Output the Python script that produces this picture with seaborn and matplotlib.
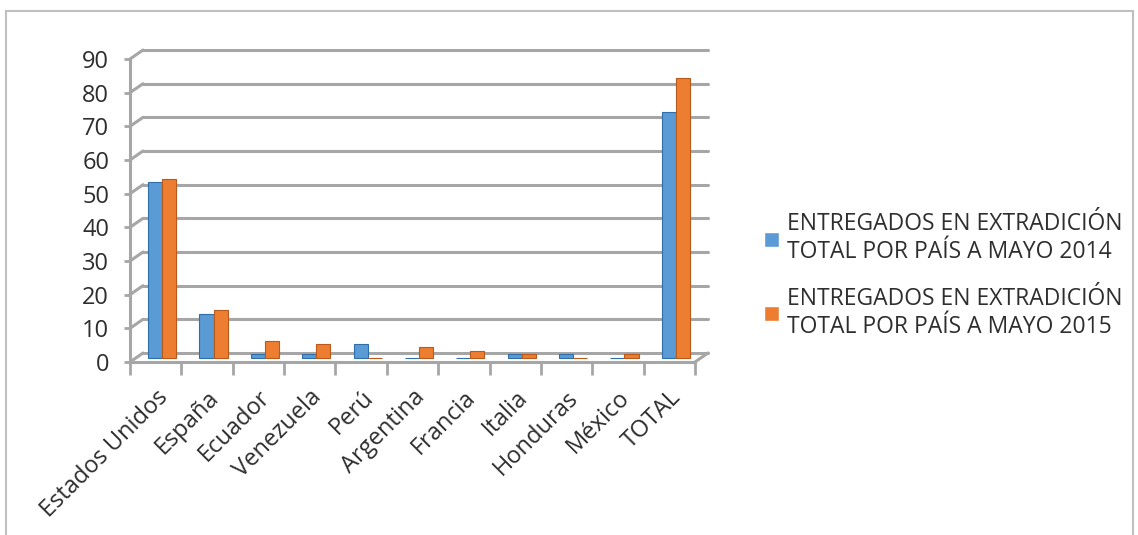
import pandas as pd
import matplotlib.pyplot as plt
import matplotlib.patches as mpatches
from matplotlib.transforms import ScaledTranslation
import seaborn as sns

# data
paises = ["Estados Unidos", "España", "Ecuador", "Venezuela", "Perú", "Argentina",
          "Francia", "Italia", "Honduras", "México", "TOTAL"]
mayo_2014 = [52, 13, 1, 1, 4, 0, 0, 1, 1, 0, 73]
mayo_2015 = [53, 14, 5, 4, 0, 3, 2, 1, 0, 1, 83]
serie_2014 = "ENTREGADOS EN EXTRADICIÓN\nTOTAL POR PAÍS A MAYO 2014"
serie_2015 = "ENTREGADOS EN EXTRADICIÓN\nTOTAL POR PAÍS A MAYO 2015"
y_ticks = [0, 10, 20, 30, 40, 50, 60, 70, 80, 90]

BLUE = "#5B9BD5"
ORANGE = "#ED7D31"
GRID = "#A6A6A6"
TEXT = "#2E2E2E"

df = pd.DataFrame({
    "pais": paises * 2,
    "valor": mayo_2014 + mayo_2015,
    "serie": [serie_2014] * len(paises) + [serie_2015] * len(paises),
})

sns.set_theme(style="white")
plt.rcParams["font.family"] = ["Open Sans", "DejaVu Sans"]

W, H = 1138, 535
fig = plt.figure(figsize=(W / 100, H / 100), dpi=100)
left, right, bottom_px, top_px = 130, 695, 362, 59
ax = fig.add_axes([left / W, 1 - bottom_px / H, (right - left) / W, (bottom_px - top_px) / H])

sns.barplot(data=df, x="pais", y="valor", hue="serie", palette=[BLUE, ORANGE],
            width=0.55, saturation=1, ax=ax, zorder=3)

# pseudo 3D depth (pixels)
dx_px, dy_px = 13, 9
# bars stand in the middle of the depth
mid = ScaledTranslation(dx_px / 200, dy_px / 200, fig.dpi_scale_trans)
for p, c in zip(ax.patches, [BLUE] * len(paises) + [ORANGE] * len(paises)):
    p.set_edgecolor("#2F6EA8" if c == BLUE else "#B85A1C")
    p.set_linewidth(0.8)
    p.set_transform(ax.transData + mid)

ax.set_xlim(-0.5, len(paises) - 0.5)
ax.set_ylim(0, 90)
ax.set_yticks(y_ticks)
ax.set_xlabel("")
ax.set_ylabel("")

# back wall: gridlines shifted up and right
x0, x1 = ax.get_xlim()
ddx = dx_px * (x1 - x0) / (right - left)
ddy = dy_px * 90 / (bottom_px - top_px)
for y in y_ticks:
    ax.plot([x0 + ddx, x1 + ddx], [y + ddy, y + ddy], color=GRID, lw=2.2, clip_on=False, zorder=1)
    ax.plot([x0, x0 + ddx], [y, y + ddy], color=GRID, lw=2.2, clip_on=False, zorder=1)
# floor front edge and right side
ax.plot([x0, x1], [0, 0], color=GRID, lw=2.2, clip_on=False, zorder=2)
ax.plot([x1, x1 + ddx], [0, ddy], color=GRID, lw=2.2, clip_on=False, zorder=2)

for s in ["top", "right", "bottom"]:
    ax.spines[s].set_visible(False)
ax.spines["left"].set_color(GRID)
ax.spines["left"].set_linewidth(2.2)

ax.set_xticks(range(len(paises)))
ax.set_xticklabels(paises, rotation=45, ha="right", rotation_mode="anchor",
                   fontsize=17, color=TEXT)
ax.tick_params(axis="x", length=0, pad=17)
ax.set_xticks([i - 0.5 for i in range(len(paises) + 1)], minor=True)
ax.tick_params(axis="x", which="minor", length=9, width=2, color=GRID, bottom=True)
ax.tick_params(axis="y", length=4, width=2, color=GRID, left=True, labelsize=17,
               labelcolor=TEXT, pad=11)

handles, labels = ax.get_legend_handles_labels()
ax.legend(handles, labels, loc="center left", bbox_to_anchor=(0.653, 0.485),
          bbox_transform=fig.transFigure, frameon=False, fontsize=16.5,
          handlelength=0.65, handleheight=0.65, handletextpad=0.35, labelspacing=1.0,
          labelcolor=TEXT)

# thin gray frame around the chart
fig.patches.append(mpatches.Rectangle((6 / W, -0.05), (1133 - 6) / W, 1.05 - 11 / H,
                                      transform=fig.transFigure, fill=False,
                                      edgecolor="#BFBFBF", lw=1.5))

fig.savefig("out.png", dpi=100)
